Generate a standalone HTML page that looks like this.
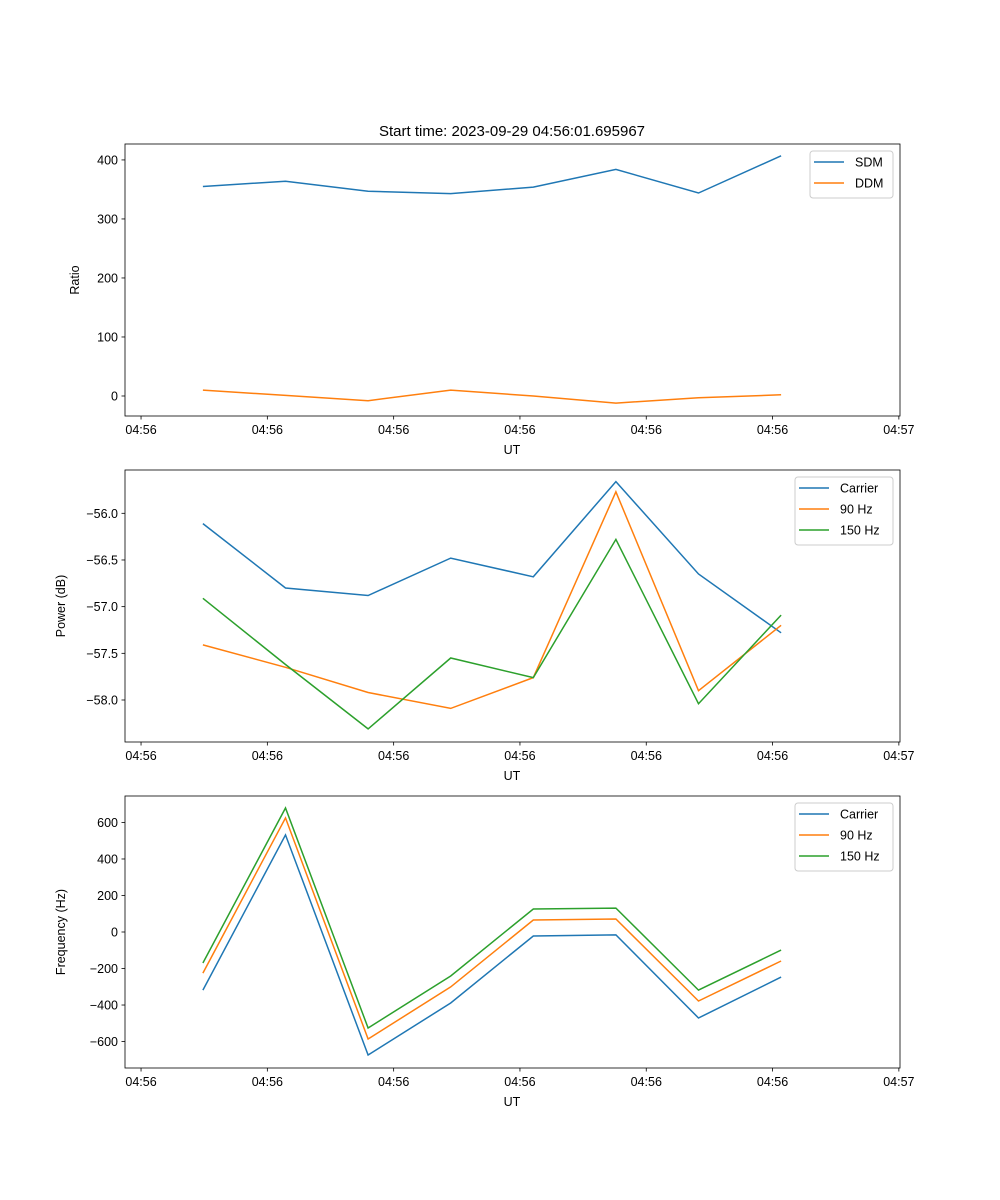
<!DOCTYPE html>
<html><head><meta charset="utf-8"><style>
body{margin:0;background:#fff;}
svg{display:block;font-family:"Liberation Sans","DejaVu Sans",sans-serif;}
</style></head><body>
<svg id="fig" width="1000" height="1200">
<text x="512" y="136" font-size="15" text-anchor="middle">Start time: 2023-09-29 04:56:01.695967</text>
</svg>
<script>
const tickLabels = ["04:56","04:56","04:56","04:56","04:56","04:56","04:57"];
const xVals = [0.49,1.144,1.798,2.452,3.106,3.76,4.414,5.068];
const sdm = [355,364,347,343,354,384,344,407];
const ddm = [10,1,-8,10,0,-12,-3,2];
const pCarrier = [-56.11,-56.80,-56.88,-56.48,-56.68,-55.66,-56.65,-57.28];
const p90 = [-57.41,-57.65,-57.92,-58.09,-57.76,-55.77,-57.90,-57.20];
const p150 = [-56.91,-57.62,-58.31,-57.55,-57.76,-56.28,-58.04,-57.09];
const fCarrier = [-318,532,-674,-389,-22,-16,-471,-247];
const f90 = [-225,625,-586,-301,66,71,-378,-159];
const f150 = [-170,679,-526,-241,126,131,-318,-99];
const yTicks1 = [0,100,200,300,400];
const yTicks2 = [-58.0,-57.5,-57.0,-56.5,-56.0];
const yTicks3 = [-600,-400,-200,0,200,400,600];

const NS="http://www.w3.org/2000/svg";
const svg=document.getElementById('fig');
function mk(tag,attrs,parent){const e=document.createElementNS(NS,tag);for(const k in attrs)e.setAttribute(k,attrs[k]);(parent||svg).appendChild(e);return e;}
const L=125,R=900,xmin=-0.127,xmax=6.009;
function xs(v){return L+(v-xmin)/(xmax-xmin)*(R-L);}
const C=["#1f77b4","#ff7f0e","#2ca02c"];

function panel(name,top,bot,ymin,ymax,yt,fmt,ylabel,series,names,legX,legW){
  const g=mk('g',{});
  
  
  const ys=v=>bot-(v-ymin)/(ymax-ymin)*(bot-top);
  series.forEach((s,i)=>{
    const pts=s.map((v,j)=>xs(xVals[j]).toFixed(1)+','+ys(v).toFixed(1)).join(' ');
    const pl=mk('polyline',{points:pts,fill:'none',stroke:C[i],'stroke-width':1.5},g);
    
    
  });
  mk('rect',{x:L,y:top,width:R-L,height:bot-top,fill:'none',stroke:'#000','stroke-width':0.8},g);
  tickLabels.forEach((t,i)=>{
    const x=xs(i);
    mk('line',{x1:x,x2:x,y1:bot,y2:bot+3.5,stroke:'#000','stroke-width':0.8},g);
    const tx=mk('text',{x:x,y:bot+18,'font-size':12.5,'text-anchor':'middle'},g);tx.textContent=t;
    
    
  });
  yt.forEach(v=>{
    const y=ys(v);
    mk('line',{x1:L-3.5,x2:L,y1:y,y2:y,stroke:'#000','stroke-width':0.8},g);
    const tx=mk('text',{x:L-7,y:y+4.5,'font-size':12.5,'text-anchor':'end'},g);tx.textContent=fmt(v);
    
    
  });
  const xl=mk('text',{x:512,y:bot+38,'font-size':12.5,'text-anchor':'middle'},g);xl.textContent='UT';
  
  
  const cy=(top+bot)/2;
  const yl=mk('text',{x:0,y:0,'font-size':12.5,'text-anchor':'middle',transform:`translate(${name==='ratio-panel'?79:65},${cy}) rotate(-90)`},g);yl.textContent=ylabel;
  
  
  const lg=mk('g',{},g);
  
  
  const lt=top+7;
  mk('rect',{x:legX,y:lt,width:legW,height:names.length*21+5,rx:3,fill:'#fff','fill-opacity':0.8,stroke:'#ccc','stroke-width':1},lg);
  names.forEach((n,i)=>{
    const y=lt+11+i*21;
    mk('line',{x1:legX+4,x2:legX+34,y1:y,y2:y,stroke:C[i],'stroke-width':1.5},lg);
    const tx=mk('text',{x:legX+45,y:y+4.5,'font-size':12.5},lg);tx.textContent=n;
    
    
  });
}
panel('ratio-panel',144,416,-33.9,427,yTicks1,v=>String(v),'Ratio',[sdm,ddm],['SDM','DDM'],810,83);
panel('power-panel',470,742,-58.45,-55.536,yTicks2,v=>'\u2212'+Math.abs(v).toFixed(1),'Power (dB)',[pCarrier,p90,p150],['Carrier','90 Hz','150 Hz'],795,98);
panel('frequency-panel',796,1068,-745,745,yTicks3,v=>(v<0?'\u2212':'')+Math.abs(v),'Frequency (Hz)',[fCarrier,f90,f150],['Carrier','90 Hz','150 Hz'],795,98);
</script>
</body></html>
